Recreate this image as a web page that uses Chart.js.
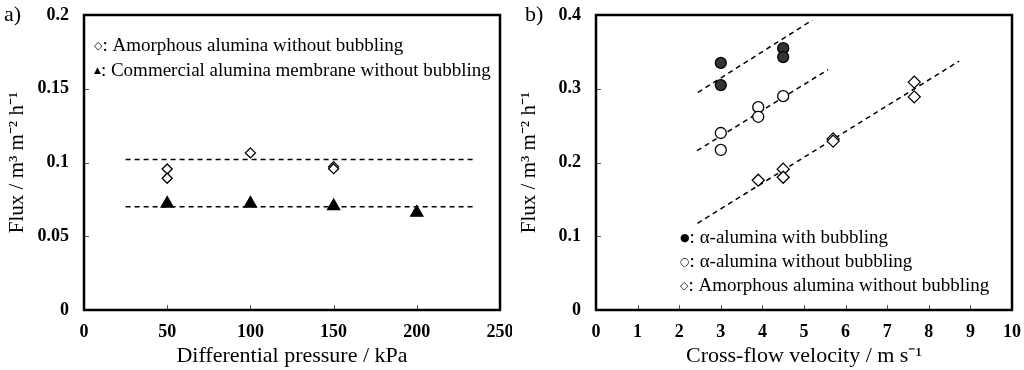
<!DOCTYPE html>
<html><head><meta charset="utf-8">
<script src="https://cdn.jsdelivr.net/npm/chart.js@4/dist/chart.umd.min.js"></script>
<style>
html,body{margin:0;padding:0;background:#fff;}
#wrap{position:relative;width:1024px;height:370px;background:#fff;}
.panel{position:absolute;top:0;width:512px;height:370px;}
</style></head><body>
<div id="wrap">
<div class="panel" style="left:0"><canvas id="ca" width="512" height="370"></canvas></div>
<div class="panel" style="left:512px"><canvas id="cb" width="512" height="370"></canvas></div>
</div>
<script>
// ---------- Panel a data ----------
const pressureAmorph = [50, 50, 100, 150, 150];
const fluxAmorph = [0.0956, 0.0893, 0.1065, 0.0972, 0.0958];
const pressureCommercial = [50, 100, 150, 200];
const fluxCommercial = [0.0722, 0.0722, 0.0705, 0.0660];
const fitAmorphAX = [25, 235];
const fitAmorphAY = [0.102, 0.102];
const fitCommX = [25, 235];
const fitCommY = [0.070, 0.070];
const xTicksA = [0, 50, 100, 150, 200, 250];
const xTickLabelsA = ['0', '50', '100', '150', '200', '250'];
const yTicksA = [0, 0.05, 0.1, 0.15, 0.2];
const yTickLabelsA = ['0', '0.05', '0.1', '0.15', '0.2'];
const legendA = ['\u25C7', ': Amorphous alumina without bubbling', '\u25B2', ': Commercial alumina membrane without bubbling'];

// ---------- Panel b data ----------
const velBubble = [3, 3, 4.5, 4.5];
const fluxBubble = [0.335, 0.305, 0.355, 0.343];
const velAlpha = [3, 3, 3.9, 3.9, 4.5];
const fluxAlpha = [0.240, 0.217, 0.275, 0.262, 0.290];
const velAmorph = [3.9, 4.5, 4.5, 5.7, 5.7, 7.65, 7.65];
const fluxAmorphB = [0.176, 0.191, 0.180, 0.232, 0.229, 0.309, 0.289];
const fitBubbleX = [2.45, 5.2];
const fitBubbleY = [0.295, 0.393];
const fitAlphaX = [2.43, 5.58];
const fitAlphaY = [0.216, 0.326];
const fitAmorphBX = [2.44, 8.73];
const fitAmorphBY = [0.1175, 0.3376];
const xTicksB = [0, 1, 2, 3, 4, 5, 6, 7, 8, 9, 10];
const xTickLabelsB = ['0', '1', '2', '3', '4', '5', '6', '7', '8', '9', '10'];
const yTicksB = [0, 0.1, 0.2, 0.3, 0.4];
const yTickLabelsB = ['0', '0.1', '0.2', '0.3', '0.4'];
const legendB = ['\u25CF', ': \u03B1-alumina with bubbling', '\u25CB', ': \u03B1-alumina without bubbling', '\u25C7', ': Amorphous alumina without bubbling'];

const SERIF = "'Liberation Serif', 'Times New Roman', serif";
const zip = (xs, ys) => xs.map((x, i) => ({x: x, y: ys[i]}));

function markerSet(data, style, radius, fill) {
  return {data: data, showLine: false, pointStyle: style, pointRadius: radius,
    pointBackgroundColor: fill, pointBorderColor: '#000', pointBorderWidth: 1.3, order: 1};
}
function fitSet(data) {
  return {data: data, showLine: true, borderColor: '#000', borderWidth: 1.5,
    borderDash: [5, 4], pointRadius: 0, fill: false, order: 2};
}

function framePlugin(tag, legend, legendPos) {
  return {
    id: 'frame' + tag,
    afterDraw(chart) {
      const ctx = chart.ctx, a = chart.chartArea;
      ctx.save();
      ctx.strokeStyle = '#555'; ctx.lineWidth = 1;
      const xs = chart.scales.x, ys = chart.scales.y;
      xs.ticks.forEach(t => {
        const px = Math.round(xs.getPixelForValue(t.value)) + 0.5;
        ctx.beginPath(); ctx.moveTo(px, a.bottom); ctx.lineTo(px, a.bottom - 5); ctx.stroke();
      });
      ys.ticks.forEach(t => {
        const py = Math.round(ys.getPixelForValue(t.value)) + 0.5;
        ctx.beginPath(); ctx.moveTo(a.left, py); ctx.lineTo(a.left + 5, py); ctx.stroke();
      });
      ctx.strokeStyle = '#000'; ctx.lineWidth = 2.5;
      ctx.strokeRect(a.left, a.top, a.right - a.left, a.bottom - a.top);
      ctx.fillStyle = '#000';
      ctx.textBaseline = 'middle'; ctx.textAlign = 'left';
      ctx.font = '22px ' + SERIF;
      ctx.fillText(tag, tag === 'a)' ? 4 : 13, 15);
      for (let i = 0; i < legend.length / 2; i++) {
        const p = legendPos[i];
        ctx.font = p.sym + "px 'DejaVu Sans'";
        ctx.fillText(legend[2 * i], p.x, p.y);
        const w = ctx.measureText(legend[2 * i]).width;
        ctx.font = '19px ' + SERIF;
        ctx.fillText(legend[2 * i + 1], p.x + w, p.y);
      }
      ctx.restore();
    }
  };
}

function makeChart(id, datasets, xr, yr, xTicks, xLabels, yTicks, yLabels, xTitle, plugin) {
  return new Chart(document.getElementById(id), {
    type: 'scatter',
    data: {datasets: datasets},
    options: {
      responsive: false, animation: false, devicePixelRatio: 1,
      layout: {padding: {left: 0, top: 15, right: 12, bottom: 0}},
      plugins: {legend: {display: false}, tooltip: {enabled: false}},
      scales: {
        x: {
          type: 'linear', min: xr[0], max: xr[1],
          afterBuildTicks: s => { s.ticks = xTicks.map(v => ({value: v})); },
          afterFit: s => { s.height = 60; s.paddingLeft = 0; s.paddingRight = 0; },
          grid: {display: false, drawTicks: false}, border: {display: false},
          ticks: {color: '#000', padding: 12, maxRotation: 0, autoSkip: false,
            font: {family: SERIF, size: 18, weight: 'bold'},
            callback: (v, i) => xLabels[i]},
          title: {display: true, text: xTitle, color: '#000',
            font: {family: SERIF, size: 22}, padding: {top: 0, bottom: 1}}
        },
        y: {
          type: 'linear', min: yr[0], max: yr[1],
          afterBuildTicks: s => { s.ticks = yTicks.map(v => ({value: v})); },
          afterFit: s => { s.width = 84; s.paddingTop = 0; s.paddingBottom = 0; },
          grid: {display: false, drawTicks: false}, border: {display: false},
          ticks: {color: '#000', padding: 15, autoSkip: false,
            font: {family: SERIF, size: 18, weight: 'bold'},
            callback: (v, i) => yLabels[i]},
          title: {display: true, text: 'Flux / m\u00B3 m\u207B\u00B2 h\u207B\u00B9', color: '#000',
            font: {family: SERIF, size: 21}, padding: {top: 5, bottom: 0}}
        }
      }
    },
    plugins: [plugin]
  });
}

makeChart('ca', [
  markerSet(zip(pressureAmorph, fluxAmorph), 'rectRot', 5, '#fff'),
  markerSet(zip(pressureCommercial, fluxCommercial), 'triangle', 7, '#000'),
  fitSet(zip(fitAmorphAX, fitAmorphAY)),
  fitSet(zip(fitCommX, fitCommY))
], [0, 250], [0, 0.2], xTicksA, xTickLabelsA, yTicksA, yTickLabelsA,
  'Differential pressure / kPa',
  framePlugin('a)', legendA, [{x: 94, y: 46, sym: 11}, {x: 94, y: 71, sym: 9}]));

makeChart('cb', [
  markerSet(zip(velBubble, fluxBubble), 'circle', 5.5, '#333'),
  markerSet(zip(velAlpha, fluxAlpha), 'circle', 5.5, '#fff'),
  markerSet(zip(velAmorph, fluxAmorphB), 'rectRot', 6, '#fff'),
  fitSet(zip(fitBubbleX, fitBubbleY)),
  fitSet(zip(fitAlphaX, fitAlphaY)),
  fitSet(zip(fitAmorphBX, fitAmorphBY))
], [0, 10], [0, 0.4], xTicksB, xTickLabelsB, yTicksB, yTickLabelsB,
  'Cross-flow velocity / m s\u207B\u00B9',
  framePlugin('b)', legendB, [{x: 168, y: 238, sym: 11}, {x: 168, y: 262, sym: 11}, {x: 168, y: 286, sym: 11}]));
</script>
</body></html>
